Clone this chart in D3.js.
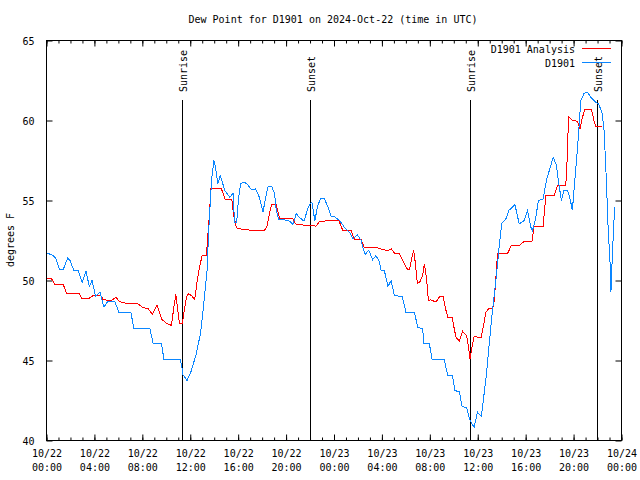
<!DOCTYPE html>
<html><head><meta charset="utf-8">
<script src="https://cdn.jsdelivr.net/npm/d3@7"></script>
<style>body{margin:0;background:#fff}svg{display:block}text{font-family:"DejaVu Sans Mono",monospace;font-size:10px;fill:#000}</style>
</head><body>
<script>
const titleText = "Dew Point for D1901 on 2024-Oct-22 (time in UTC)";
const yLabel = "degrees F";
const seriesNames = ["D1901 Analysis", "D1901"];
const seriesColors = ["#ff0000", "#0a86ff"];
const startTime = "2024-10-22T00:00:00Z";
const endTime = "2024-10-24T00:00:00Z";
const yTicks = [40, 45, 50, 55, 60, 65];
// hours since 10/22 00:00 UTC
const analysisHours = [0,0.43,0.7,1.4,1.68,2.73,2.93,3.57,3.9,4.54,4.73,5.43,5.8,6.07,6.63,7.65,8.0,8.5,8.85,9.23,9.6,9.96,10.43,10.63,10.8,10.93,11.1,11.35,11.46,11.68,11.82,12.1,12.37,12.6,12.8,13.0,13.35,13.5,13.62,13.7,14.6,14.93,15.48,15.6,15.85,16.54,17.5,18.2,18.43,18.63,18.8,19.18,19.46,20.57,20.77,21.68,22.5,22.8,23.77,24.4,24.73,25.43,25.7,26.27,26.54,27.65,28.07,28.5,28.77,29.04,29.46,29.8,30.07,30.3,30.48,30.65,30.8,30.96,31.18,31.4,31.54,31.73,31.88,32.1,32.5,32.85,33.1,33.35,33.5,33.85,34.04,34.18,34.46,34.73,35.07,35.23,35.35,35.52,35.7,35.98,36.27,36.48,36.68,36.9,37.24,37.38,37.5,37.65,38.48,38.8,39.46,39.87,40.52,40.7,41.46,41.68,42.375,42.65,43.35,43.5,43.57,43.9,44.32,44.54,44.68,44.93,45.5,45.7,45.85,46.4];
const analysisValues = [50.1,50.1,49.75,49.75,49.2,49.2,48.9,48.9,49.06,49.06,48.8,48.75,48.96,48.69,48.58,48.54,48.33,48.23,47.88,48.48,47.6,47.35,47.19,48.33,49.13,48.33,47.33,47.33,47.92,48.96,49.17,49.06,48.79,50.1,50.94,51.56,51.56,53.13,54.27,55.73,55.73,55.04,55.04,54.17,53.29,53.17,53.13,53.13,53.44,54.27,54.75,54.75,53.85,53.85,53.54,53.44,53.4,53.69,53.75,53.75,53.13,53.13,52.56,52.56,52.04,52.04,51.92,51.88,51.98,51.71,51.67,51.15,50.73,50.69,51.35,51.88,51.04,49.79,49.94,50.31,51.04,50.1,48.75,48.79,48.65,49.02,49.02,48.13,47.71,47.71,46.98,46.46,46.21,46.83,46.56,45.83,45.1,45.83,46.5,46.46,46.42,47.19,48.02,48.23,48.23,48.75,50.0,51.67,51.67,52.19,52.19,52.44,52.44,53.38,53.38,55.31,55.31,55.94,55.94,58.13,60.25,60.0,59.96,59.48,60.04,60.67,60.67,60.0,59.63,59.63];
const obsHours = [0,0.57,0.8,1.07,1.4,1.77,1.96,2.3,2.65,2.98,3.3,3.57,3.8,4.1,4.46,4.8,5.1,5.7,6.04,7.04,7.3,8.63,8.9,9.6,9.8,11.18,11.3,11.4,11.73,12.1,12.5,12.85,13.1,13.4,13.54,13.68,13.8,13.98,14.1,14.3,14.5,14.9,15.3,15.57,15.7,15.87,16.04,16.2,16.5,16.8,17.1,17.46,17.77,18.07,18.3,18.5,18.8,19.04,19.18,19.4,19.9,20.3,20.57,20.85,21.1,21.5,21.8,22.0,22.15,22.4,22.65,22.9,23.2,23.55,23.77,24.0,24.46,24.87,25.3,25.6,25.96,26.27,26.4,26.6,26.9,27.23,27.5,27.8,27.93,28.2,28.5,28.77,29.04,29.7,30.0,30.7,31.0,31.4,31.5,31.96,32.2,33.2,33.5,33.88,34.1,34.46,34.7,35.07,35.3,35.43,35.7,35.98,36.3,36.7,36.96,37.2,37.5,37.8,38.0,38.35,38.6,39.1,39.46,39.87,40.15,40.43,40.57,40.8,41.07,41.46,41.73,42.1,42.3,42.57,42.73,42.98,43.2,43.5,43.68,43.9,44.1,44.4,44.6,44.88,45.15,45.43,45.85,46.1,46.4,46.54,46.68,46.82,46.9,47.02,47.1,47.12,47.23,47.37,47.46];
const obsValues = [51.73,51.56,51.35,50.7,50.7,51.4,51.25,50.6,50.6,49.86,50.58,49.64,50.0,49.02,49.27,48.33,48.69,48.69,48.02,48.02,46.98,46.98,46.08,46.08,45.06,45.06,44.6,44.1,43.75,44.38,45.42,46.67,48.33,50.63,53.1,55.0,56.46,57.5,57.08,56.04,56.56,55.6,55.2,55.46,53.65,53.6,55.2,56.04,56.15,56.0,55.67,55.73,55.2,54.27,55.2,55.88,55.88,55.42,54.38,53.79,53.79,53.7,53.5,54.17,53.96,53.7,54.48,54.8,54.9,53.75,54.7,55.15,55.1,54.5,54.0,54.0,53.75,53.33,53.0,52.6,52.85,52.5,52.08,51.63,51.9,51.3,51.56,51.15,50.63,50.63,49.63,50.0,49.06,49.0,48.02,48.02,47.08,46.98,46.04,46.04,45.04,45.04,44.06,44.06,43.1,43.08,42.1,42.08,41.35,41.15,40.83,41.77,41.5,43.96,46.04,47.92,49.9,52.2,53.58,53.85,54.38,54.75,53.54,53.75,54.38,53.33,53.13,53.75,55.0,55.1,56.25,57.19,57.7,57.19,56.25,55.0,55.63,55.63,55.2,54.38,56.25,58.96,61.25,61.7,61.77,61.46,61.15,61.04,60.4,59.38,57.29,54.58,52.92,51.56,50.0,49.3,51.46,53.75,54.6];
const sunLabels = ["Sunrise", "Sunset", "Sunrise", "Sunset"];
const sunHours = [11.35, 22.03, 35.38, 45.98];

const W = 640, H = 480;
const L = 46.5, R = 621.5, T = 40.5, B = 440.5;
const t0 = new Date(startTime), t1 = new Date(endTime);
const toDate = h => new Date(t0.getTime() + h * 3600e3);

const svg = d3.select("body").append("svg").attr("width", W).attr("height", H);
const x = d3.scaleUtc().domain([t0, t1]).range([L, R]);
const y = d3.scaleLinear().domain([40, 65]).range([B, T]);

const majorTimes = d3.utcHour.every(4).range(t0, d3.utcHour.offset(t1, 1));
const minorTimes = d3.utcHour.every(1).range(t0, d3.utcHour.offset(t1, 1));
const fmtDate = d3.utcFormat("%m/%d"), fmtTime = d3.utcFormat("%H:%M");

// minor ticks
svg.append("g").attr("transform", `translate(0,${B})`)
  .call(d3.axisBottom(x).tickValues(minorTimes).tickSize(-3).tickFormat(""))
  .call(g => g.select(".domain").remove());
svg.append("g").attr("transform", `translate(0,${T})`)
  .call(d3.axisTop(x).tickValues(minorTimes).tickSize(-3).tickFormat(""))
  .call(g => g.select(".domain").remove());
// major ticks
const xb = svg.append("g").attr("transform", `translate(0,${B})`)
  .call(d3.axisBottom(x).tickValues(majorTimes).tickSize(-6).tickPadding(0).tickFormat(""))
  .call(g => g.select(".domain").remove());
xb.selectAll(".tick").each(function(d) {
  const t = d3.select(this).append("text").attr("text-anchor", "middle").attr("fill", "#000");
  t.append("tspan").attr("x", 0).attr("y", 16.5).text(fmtDate(d));
  t.append("tspan").attr("x", 0).attr("y", 30.5).text(fmtTime(d));
});
svg.append("g").attr("transform", `translate(0,${T})`)
  .call(d3.axisTop(x).tickValues(majorTimes).tickSize(-6).tickFormat(""))
  .call(g => g.select(".domain").remove());
svg.append("g").attr("transform", `translate(${L},0)`)
  .call(d3.axisLeft(y).tickValues(yTicks).tickSize(-6).tickPadding(12).tickFormat(d3.format("d")))
  .call(g => g.select(".domain").remove())
  .call(g => g.selectAll("text").attr("dy", "0.35em"));
svg.append("g").attr("transform", `translate(${R},0)`)
  .call(d3.axisRight(y).tickValues(yTicks).tickSize(-6).tickFormat(""))
  .call(g => g.select(".domain").remove());
svg.selectAll(".tick line").attr("stroke", "#000");
svg.selectAll("g").attr("font-family", null).attr("font-size", null);

// sun lines
sunHours.forEach((h, i) => {
  const sx = Math.round(x(toDate(h))) + 0.5;
  svg.append("line").attr("x1", sx).attr("x2", sx).attr("y1", 100).attr("y2", B)
    .attr("stroke", "#000").attr("stroke-width", 1);
  svg.append("text").attr("transform", `translate(${sx + 4},92) rotate(-90)`)
    .attr("text-anchor", "start").text(sunLabels[i]);
});

// series
const line = d3.line().x(d => x(toDate(d[0]))).y(d => y(d[1]));
const seriesData = [
  d3.zip(analysisHours, analysisValues),
  d3.zip(obsHours, obsValues)
];
seriesData.forEach((data, i) => {
  svg.append("path").datum(data).attr("d", line).attr("fill", "none")
    .attr("stroke", seriesColors[i]).attr("stroke-width", 1)
    .attr("shape-rendering", "crispEdges");
});

// frame
svg.append("rect").attr("x", L).attr("y", T).attr("width", R - L).attr("height", B - T)
  .attr("fill", "none").attr("stroke", "#000");

// title and labels
svg.append("text").attr("x", 333).attr("y", 23).attr("text-anchor", "middle").text(titleText);
svg.append("text").attr("transform", "translate(14,240) rotate(-90)").attr("text-anchor", "middle").text(yLabel);

// legend
seriesNames.forEach((n, i) => {
  const ly = 48.5 + i * 14;
  svg.append("text").attr("x", 575).attr("y", ly + 4).attr("text-anchor", "end").text(n);
  svg.append("line").attr("x1", 582).attr("x2", 611).attr("y1", ly).attr("y2", ly)
    .attr("stroke", seriesColors[i]).attr("stroke-width", 1);
});
</script>
</body></html>
